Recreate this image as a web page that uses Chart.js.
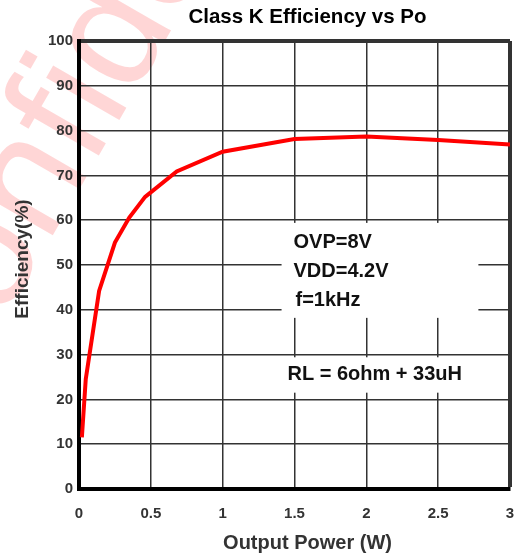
<!DOCTYPE html>
<html>
<head>
<meta charset="utf-8">
<script src="https://cdn.jsdelivr.net/npm/chart.js@4/dist/chart.umd.min.js"></script>
<style>
  html, body { margin: 0; padding: 0; background: #fff; }
  #wrap { width: 522px; height: 558px; }
</style>
</head>
<body>
<div id="wrap"><canvas id="chart" width="522" height="558"></canvas></div>
<script>
// Efficiency curve
const powerW = [0.02, 0.047, 0.14, 0.25, 0.35, 0.46, 0.68, 1.0, 1.5, 2.0, 2.5, 3.0];
const effPct = [11.5, 24.5, 44.2, 55.0, 60.6, 65.2, 70.9, 75.3, 78.1, 78.7, 77.9, 76.9];

const xTicks = [0, 0.5, 1, 1.5, 2, 2.5, 3];
const yTicks = [0, 10, 20, 30, 40, 50, 60, 70, 80, 90, 100];

const chartTitle = "Class K Efficiency vs Po";
const xTitle = "Output Power (W)";
const yTitle = "Efficiency(%)";
const condLines = ["OVP=8V", "VDD=4.2V", "f=1kHz"];
const loadLine = "RL = 6ohm + 33uH";

const FONT = "Arial, 'Liberation Sans', sans-serif";

// light "Confidential" stamp behind everything
const watermark = {
    id: "watermark",
    beforeDraw(chart) {
        const ctx = chart.ctx;
        ctx.save();
        ctx.fillStyle = "#fff";
        ctx.fillRect(0, 0, chart.width, chart.height);
        ctx.font = "160px " + FONT;
        ctx.fillStyle = "rgba(255, 0, 0, 0.16)";
        ctx.textBaseline = "alphabetic";
        ctx.translate(-55, 422);
        ctx.rotate(-Math.PI / 3);
        ctx.fillText("Confidential", 0, 0);
        ctx.restore();
    },
};

// white boxes under the condition notes, then the notes
const notes = {
    id: "notes",
    beforeDatasetsDraw(chart) {
        const { ctx, scales: { x, y } } = chart;
        ctx.save();
        ctx.fillStyle = "#fff";
        const left = x.getPixelForValue(1.41);
        const right = x.getPixelForValue(2.78);
        let top = y.getPixelForValue(59.4);
        ctx.fillRect(left, top, right - left, y.getPixelForValue(38.2) - top);
        top = y.getPixelForValue(29.4);
        ctx.fillRect(left, top, right - left, y.getPixelForValue(21.5) - top);

        ctx.fillStyle = "#111";
        ctx.font = "bold 20px " + FONT;
        ctx.textBaseline = "middle";
        ctx.textAlign = "left";
        const lx = x.getPixelForValue(1.5);
        ctx.fillText(condLines[0], lx - 1, y.getPixelForValue(55));
        ctx.fillText(condLines[1], lx - 1, y.getPixelForValue(48.5));
        ctx.fillText(condLines[2], lx + 1, y.getPixelForValue(42));
        ctx.fillText(loadLine, lx - 7, y.getPixelForValue(25.5));
        ctx.restore();
    },
};

// titles sit a bit right of the plot centre in the original
const titles = {
    id: "titles",
    afterDraw(chart) {
        const { ctx, chartArea } = chart;
        const cx = (chartArea.left + chartArea.right) / 2 + 13;
        ctx.save();
        ctx.textAlign = "center";
        ctx.textBaseline = "middle";
        ctx.fillStyle = "#000";
        ctx.font = "bold 20.5px " + FONT;
        ctx.fillText(chartTitle, cx, 17);
        ctx.fillStyle = "#333";
        ctx.font = "bold 20px " + FONT;
        ctx.fillText(xTitle, cx, 543);
        ctx.translate(23, (chartArea.top + chartArea.bottom) / 2 - 6);
        ctx.rotate(-Math.PI / 2);
        ctx.font = "bold 19px " + FONT;
        ctx.fillText(yTitle, 0, 0);
        ctx.restore();
    },
};

const data = {
    datasets: [{
        data: powerW.map((p, i) => ({ x: p, y: effPct[i] })),
        borderColor: "#ff0000",
        borderWidth: 4,
        pointRadius: 0,
        tension: 0,
        fill: false,
    }],
};

new Chart(document.getElementById("chart"), {
    type: "line",
    data,
    options: {
        responsive: false,
        animation: false,
        layout: { padding: { left: 0, right: 12, top: 41, bottom: 0 } },
        plugins: {
            legend: { display: false },
            tooltip: { enabled: false },
            title: { display: false },
        },
        scales: {
            x: {
                type: "linear",
                min: 0,
                max: 3,
                afterBuildTicks: (s) => { s.ticks = xTicks.map((v) => ({ value: v })); },
                afterFit: (s) => {
                    s.height = 69;
                    s.paddingLeft = 0;
                    s.paddingRight = 0;
                },
                ticks: {
                    color: "#333",
                    font: { family: FONT, size: 15, weight: "bold" },
                    padding: 16,
                    maxRotation: 0,
                    autoSkip: false,
                    callback: (v) => String(v),
                },
                grid: {
                    color: "#333",
                    lineWidth: (c) => (c.tick && c.tick.value === 3 ? 4 : 1.5),
                    drawTicks: false,
                },
                border: { display: true, color: "#000", width: 4 },
            },
            y: {
                type: "linear",
                min: 0,
                max: 100,
                afterBuildTicks: (s) => { s.ticks = yTicks.map((v) => ({ value: v })); },
                afterFit: (s) => {
                    s.width = 79;
                    s.paddingTop = 0;
                    s.paddingBottom = 0;
                },
                ticks: {
                    color: "#333",
                    font: { family: FONT, size: 15, weight: "bold" },
                    padding: 6,
                },
                grid: {
                    color: "#333",
                    lineWidth: (c) => (c.tick && c.tick.value === 100 ? 4 : 1.5),
                    drawTicks: false,
                },
                border: { display: true, color: "#000", width: 4 },
            },
        },
    },
    plugins: [watermark, notes, titles],
});
</script>
</body>
</html>
